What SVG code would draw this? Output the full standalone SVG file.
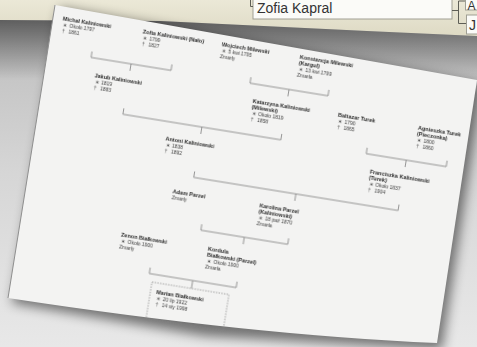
<svg xmlns="http://www.w3.org/2000/svg" width="477" height="347" viewBox="0 0 477 347">
<defs>
<linearGradient id="bg" x1="0" y1="0" x2="0" y2="1">
<stop offset="0" stop-color="#b9b9b9"/><stop offset="0.5" stop-color="#d6d6d6"/><stop offset="1" stop-color="#e8e8e8"/>
</linearGradient>
<linearGradient id="band" x1="0" y1="0" x2="0" y2="1">
<stop offset="0" stop-color="#000" stop-opacity="0.5"/><stop offset="1" stop-color="#000" stop-opacity="0"/>
</linearGradient>
<linearGradient id="beige" x1="0" y1="0" x2="0" y2="1">
<stop offset="0" stop-color="#ebe8d7"/><stop offset="1" stop-color="#dedac4"/>
</linearGradient>
<filter id="sh" x="-20%" y="-20%" width="140%" height="140%"><feGaussianBlur stdDeviation="6"/></filter>
<filter id="soft" x="-5%" y="-5%" width="110%" height="110%"><feGaussianBlur stdDeviation="0.3"/></filter>
<style>
.n{font-family:"Liberation Sans",Arial,sans-serif;font-size:5.5px;font-weight:bold;fill:#2a2a2a}
.d{font-family:"Liberation Sans",Arial,sans-serif;font-size:5px;fill:#404040}
.ln{fill:none;stroke:#858585;stroke-width:0.85}
.ui{font-family:"Liberation Sans",Arial,sans-serif;font-size:14px;fill:#333}
.uis{font-family:"Liberation Sans",Arial,sans-serif;font-size:12px;fill:#333}
</style>
</defs>
<rect width="477" height="347" fill="url(#bg)"/>
<path d="M0,0 H477 V36 L367,31 L160,21 L0,20 Z" fill="url(#beige)"/>
<path d="M0,20 L160,21 L367,31 L477,36 V80 H0 Z" fill="url(#band)"/>
<g id="ui">
<rect x="253" y="-4" width="199" height="23" fill="#fbfbf8" stroke="#a09f94" stroke-width="1"/>
<text class="ui" x="257" y="13">Zofia Kapral</text>
<path d="M250.5,0 V6.5 H253 M452,10.5 H458.5 M458.5,1 V23.5 M458.5,1 H466 M458.5,23.5 H467" fill="none" stroke="#5e5e56" stroke-width="1"/>
<rect x="465.5" y="-4" width="20" height="14" fill="#fbfbf8" stroke="#a09f94"/>
<text class="uis" x="467.5" y="9.5">A</text>
<rect x="466.5" y="15" width="20" height="19" fill="#fbfbf8" stroke="#a09f94"/>
<text class="ui" x="469" y="30">J</text>
</g>
<path d="M60,8 L482,84 L442,350 L205,336 L12,303 Z" fill="#000" opacity="0.5" filter="url(#sh)"/>
<path d="M55,5 L477,80 L437,343 Q250,335 8,298 Z" fill="#f3f3f2"/>
<path d="M55,5 L8,298" stroke="#8f8f8f" stroke-width="1" fill="none"/>
<g transform="translate(55,5) rotate(9.2)" filter="url(#soft)">
<g id="connectors" class="ln">
<path d="M44,40 V46 H125 V40 M84.5,46 V53"/>
<path d="M205,40 V46 H284 V40 M244.5,46 V53"/>
<path d="M84.5,91 V97 H244.5 V91 M164.5,97 V104"/>
<path d="M331,91 V97 H412 V91 M371.5,97 V104"/>
<path d="M164.5,142 V148 H371.5 V142 M268,148 V155"/>
<path d="M180,193 V199 H268 V193 M224,199 V206"/>
<path d="M136,244 V250 H224 V244 M180,250 V258"/>
</g>
<g id="p-michal" transform="translate(10,9)"><text class="n" y="4.5">Michał Kaliniowski</text><text class="d" y="10.5"><tspan x="1">∗</tspan><tspan x="7.5">Około 1797</tspan></text><text class="d" y="16.5"><tspan x="1">†</tspan><tspan x="7.5">1861</tspan></text></g>
<g id="p-zofia" transform="translate(91,9)"><text class="n" y="4.5">Zofia Kaliniowski (Nało)</text><text class="d" y="10.5"><tspan x="1">∗</tspan><tspan x="7.5">1799</tspan></text><text class="d" y="16.5"><tspan x="1">†</tspan><tspan x="7.5">1827</tspan></text></g>
<g id="p-wojciech" transform="translate(171,9)"><text class="n" y="4.5">Wojciech Milewski</text><text class="d" y="10.5"><tspan x="1">∗</tspan><tspan x="7.5">5 kwi 1795</tspan></text><text class="d" y="16.5">Zmarły</text></g>
<g id="p-konstancja" transform="translate(250,9)"><text class="n" y="4.5">Konstancja Milewski</text><text class="n" y="10.5">(Kargul)</text><text class="d" y="16.5"><tspan x="1">∗</tspan><tspan x="7.5">13 kwi 1799</tspan></text><text class="d" y="22.5">Zmarła</text></g>
<g id="p-jakub" transform="translate(50.5,60)"><text class="n" y="4.5">Jakub Kaliniowski</text><text class="d" y="10.5"><tspan x="1">∗</tspan><tspan x="7.5">1819</tspan></text><text class="d" y="16.5"><tspan x="1">†</tspan><tspan x="7.5">1883</tspan></text></g>
<g id="p-katarzyna" transform="translate(210.5,60)"><text class="n" y="4.5">Katarzyna Kaliniowski</text><text class="n" y="10.5">(Milewski)</text><text class="d" y="16.5"><tspan x="1">∗</tspan><tspan x="7.5">Około 1819</tspan></text><text class="d" y="22.5"><tspan x="1">†</tspan><tspan x="7.5">1858</tspan></text></g>
<g id="p-baltazar" transform="translate(297,60)"><text class="n" y="4.5">Baltazar Turek</text><text class="d" y="10.5"><tspan x="1">∗</tspan><tspan x="7.5">1790</tspan></text><text class="d" y="16.5"><tspan x="1">†</tspan><tspan x="7.5">1865</tspan></text></g>
<g id="p-agnieszka" transform="translate(378,60)"><text class="n" y="4.5">Agnieszka Turek</text><text class="n" y="10.5">(Pieczonka)</text><text class="d" y="16.5"><tspan x="1">∗</tspan><tspan x="7.5">1800</tspan></text><text class="d" y="22.5"><tspan x="1">†</tspan><tspan x="7.5">1860</tspan></text></g>
<g id="p-antoni" transform="translate(130.5,111)"><text class="n" y="4.5">Antoni Kaliniowski</text><text class="d" y="10.5"><tspan x="1">∗</tspan><tspan x="7.5">1838</tspan></text><text class="d" y="16.5"><tspan x="1">†</tspan><tspan x="7.5">1892</tspan></text></g>
<g id="p-franciszka" transform="translate(337.5,111)"><text class="n" y="4.5">Franciszka Kaliniowski</text><text class="n" y="10.5">(Turek)</text><text class="d" y="16.5"><tspan x="1">∗</tspan><tspan x="7.5">Około 1837</tspan></text><text class="d" y="22.5"><tspan x="1">†</tspan><tspan x="7.5">1904</tspan></text></g>
<g id="p-adam" transform="translate(146,162)"><text class="n" y="4.5">Adam Parzel</text><text class="d" y="10.5">Zmarły</text></g>
<g id="p-karolina" transform="translate(234,162)"><text class="n" y="4.5">Karolina Parzel</text><text class="n" y="10.5">(Kaliniowski)</text><text class="d" y="16.5"><tspan x="1">∗</tspan><tspan x="7.5">18 paź 1870</tspan></text><text class="d" y="22.5">Zmarła</text></g>
<g id="p-zenon" transform="translate(102,213)"><text class="n" y="4.5">Zenon Białkowski</text><text class="d" y="10.5"><tspan x="1">∗</tspan><tspan x="7.5">Około 1900</tspan></text><text class="d" y="16.5">Zmarły</text></g>
<g id="p-kordula" transform="translate(190,213)"><text class="n" y="4.5">Kordula</text><text class="n" y="10.5">Białkowski (Parzel)</text><text class="d" y="16.5"><tspan x="1">∗</tspan><tspan x="7.5">Około 1900</tspan></text><text class="d" y="22.5">Zmarła</text></g>
<g id="p-marian" transform="translate(146,264)"><rect x="-6" y="-6" width="78" height="37" fill="none" stroke="#858585" stroke-width="0.7" stroke-dasharray="1.5 1.2"/><text class="n" y="4.5">Marian Białkowski</text><text class="d" y="10.5"><tspan x="1">∗</tspan><tspan x="7.5">20 lip 1922</tspan></text><text class="d" y="16.5"><tspan x="1">†</tspan><tspan x="7.5">14 sty 1998</tspan></text></g>
</g>
</svg>
